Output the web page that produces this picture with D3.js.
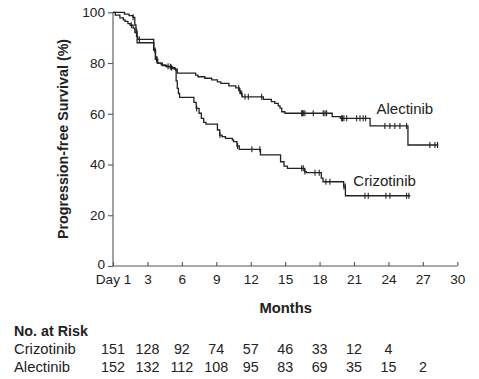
<!DOCTYPE html>
<html>
<head>
<meta charset="utf-8">
<script src="https://cdn.jsdelivr.net/npm/d3@7"></script>
<style>
body { margin: 0; background: #fff; }
text { font-family: "Liberation Sans", Arial, Helvetica, sans-serif; fill: #222; }
</style>
</head>
<body>
<div></div>
<script>
// Kaplan-Meier steps: [month, survival % after the event]
var alectinibSteps = [
  [0,100],[1.0,99.3],[1.4,98.7],[1.75,98.0],[1.9,95.0],[2.0,92.5],[2.1,88.0],
  [3.55,85.0],[3.7,81.5],[3.9,80.0],[4.2,79.3],[4.6,78.7],[5.0,78.2],[5.4,77.6],[5.6,76.0],
  [7.2,75.2],[7.4,74.6],[8.0,74.0],[8.6,73.4],[9.1,72.6],[9.4,72.0],[10.1,71.0],[10.7,70.2],
  [11.0,69.0],[11.1,68.0],[11.25,66.7],[13.1,65.7],[13.8,64.8],[14.1,64.1],[14.4,63.1],
  [14.55,62.2],[14.7,60.8],[14.98,60.2],[19.1,58.9],[19.8,58.2],[22.4,55.2],[25.7,47.7]
]
var alectinibEnd = 28.34
var alectinibCensored = [1.75,2.06,3.65,3.83,4.8,5.1,10.95,11.06,11.21,11.5,11.79,12.95,
  16.44,16.5,16.58,16.72,17.45,18.32,18.47,18.61,19.92,20.0,20.12,20.36,21.23,21.52,21.8,22.01,
  23.69,24.13,24.56,25.0,25.58,27.61,28.05,28.28]

var crizotinibSteps = [
  [0,100],[0.2,98.9],[0.6,97.8],[0.9,97.0],[1.05,96.4],[1.3,95.5],[1.5,94.9],[1.75,93.8],
  [1.9,92.0],[2.05,90.5],[2.15,89.3],[3.55,85.5],[3.7,81.5],[3.85,80.0],[4.3,79.0],[4.7,78.5],
  [5.2,77.8],[5.45,77.2],[5.5,73.0],[5.6,70.0],[5.7,68.0],[5.8,66.5],[7.05,64.5],[7.25,62.1],
  [7.5,60.2],[7.7,58.2],[7.9,56.6],[8.1,55.9],[9.1,53.6],[9.3,51.6],[9.5,51.0],[9.8,50.3],
  [10.4,49.7],[10.5,49.0],[10.8,47.3],[11.0,46.0],[12.85,43.8],[14.6,41.1],[14.9,39.4],
  [15.2,38.5],[16.7,37.2],[16.85,36.8],[18.15,34.6],[18.3,33.2],[20.1,31.3],[20.25,27.7]
]
var crizotinibEnd = 25.9
var crizotinibCensored = [1.6,2.3,3.8,5.0,7.29,9.32,10.85,12.1,12.8,16.44,16.58,16.72,17.6,17.97,
  18.55,18.9,20.12,20.24,21.95,22.24,23.78,24.13,25.58,25.78]

var xTicks = [0,3,6,9,12,15,18,21,24,27,30]
var xTickLabels = ["Day 1","3","6","9","12","15","18","21","24","27","30"]
var yTicks = [0,20,40,60,80,100]

var riskMonths = [0,3,6,9,12,15,18,21,24,27]
var riskCrizotinib = [151,128,92,74,57,46,33,12,4]
var riskAlectinib = [152,132,112,108,95,83,69,35,15,2]

var svg = d3.select("div")
.append("svg")
.attr("width",479)
.attr("height",379)

var x = d3.scaleLinear().domain([0,30]).range([113,457.3])
var y = d3.scaleLinear().domain([0,100]).range([266,12.3])

// axes
var yAxis = svg.append("g")
.attr("transform","translate(113,0)")
.call(d3.axisLeft(y).tickValues(yTicks).tickSize(5).tickPadding(3))
var xAxis = svg.append("g")
.attr("transform","translate(0,266)")
.call(d3.axisBottom(x).tickValues(xTicks).tickSize(-4).tickPadding(9)
  .tickFormat((d,i) => xTickLabels[i]))

svg.selectAll(".domain").attr("stroke","#555").attr("stroke-width",1.1)
svg.selectAll(".tick line").attr("stroke","#555").attr("stroke-width",1.1)
svg.selectAll(".tick text").attr("font-size",13.6).attr("fill","#222")
  .attr("font-family","Liberation Sans, Arial, sans-serif")
xAxis.selectAll(".tick text").attr("dy","0.68em")
yAxis.selectAll(".tick text").attr("dy",d => d == 0 ? "0.2em" : "0.32em")
xAxis.selectAll(".domain").attr("d","M113,0H457.3")
yAxis.selectAll(".domain").attr("d","M0,12.3V266")

svg.append("text")
.attr("transform","translate(68,139) rotate(-90)")
.attr("text-anchor","middle")
.attr("font-size",14.3)
.attr("font-weight","bold")
.text("Progression-free Survival (%)")

svg.append("text")
.attr("x",285.7).attr("y",313)
.attr("text-anchor","middle")
.attr("font-size",14.8)
.attr("font-weight","bold")
.text("Months")

// curves
var stepAt = (steps,t) => {
  var v = steps[0][1]
  steps.forEach(s => { if (s[0] <= t) v = s[1] })
  return v
}

var drawCurve = (steps,end,censored) => {
  var pts = steps.concat([[end, steps[steps.length-1][1]]])
  var line = d3.line().x(d => x(d[0])).y(d => y(d[1])).curve(d3.curveStepAfter)
  svg.append("path")
  .attr("d",line(pts))
  .attr("fill","none")
  .attr("stroke","#222")
  .attr("stroke-width",1.3)

  svg.selectAll(null)
  .data(censored)
  .enter()
  .append("line")
  .attr("x1",d => x(d)).attr("x2",d => x(d))
  .attr("y1",d => y(stepAt(steps,d)) - 3)
  .attr("y2",d => y(stepAt(steps,d)) + 3)
  .attr("stroke","#222")
  .attr("stroke-width",1.1)
}

drawCurve(crizotinibSteps,crizotinibEnd,crizotinibCensored)
drawCurve(alectinibSteps,alectinibEnd,alectinibCensored)

svg.append("text").attr("x",376.5).attr("y",114).attr("font-size",15).text("Alectinib")
svg.append("text").attr("x",353.3).attr("y",185.5).attr("font-size",15).text("Crizotinib")

// number at risk table
svg.append("text").attr("x",14).attr("y",336)
.attr("font-size",14.3).attr("font-weight","bold").text("No. at Risk")
svg.append("text").attr("x",14).attr("y",354).attr("font-size",14.8).text("Crizotinib")
svg.append("text").attr("x",14).attr("y",372).attr("font-size",14.8).text("Alectinib")

svg.selectAll(null)
.data(riskCrizotinib)
.enter()
.append("text")
.attr("x",(d,i) => x(riskMonths[i]))
.attr("y",354)
.attr("text-anchor","middle")
.attr("font-size",14.3)
.text(d => d)

svg.selectAll(null)
.data(riskAlectinib)
.enter()
.append("text")
.attr("x",(d,i) => x(riskMonths[i]))
.attr("y",372)
.attr("text-anchor","middle")
.attr("font-size",14.3)
.text(d => d)
</script>
</body>
</html>
